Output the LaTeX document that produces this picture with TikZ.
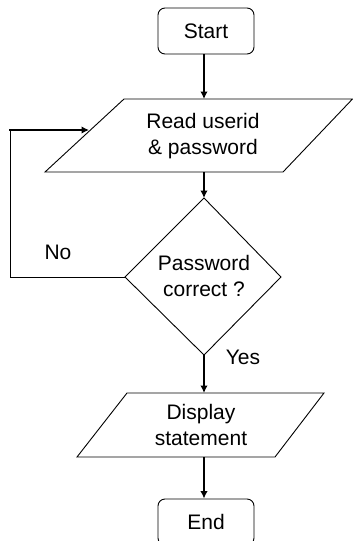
\documentclass[tikz,border=0pt]{standalone}
\usepackage{fontspec}
\setmainfont{Liberation Sans}
\usetikzlibrary{arrows.meta}
\begin{document}
\begin{tikzpicture}[x=1pt,y=-1pt,
  shapeline/.style={draw=black,line width=0.9pt,line join=miter},
  flow/.style={line width=1.6pt,-{Latex[length=7.5pt,width=7.5pt]}},
  loopline/.style={line width=1pt},
  txt/.style={align=center,font=\fontsize{21}{26}\selectfont,inner sep=0pt},
  lbl/.style={font=\fontsize{21}{24}\selectfont,inner sep=0pt},
  term/.style={shapeline,rounded corners=7pt,minimum width=96pt,minimum height=46pt,font=\fontsize{21}{24}\selectfont}]
\useasboundingbox (0,0) rectangle (353,541);
\clip (0,0) rectangle (353,541);
\fill[white] (0,0) rectangle (353,541);
% terminals
\node[term] (start) at (206,31) {Start};
\node[term] (end) at (206,522) {End};
% input parallelogram
\draw[shapeline] (124,99) -- (352.5,99) -- (283,172) -- (45,172) -- cycle;
\node[txt] (read) at (203,136) {Read userid\\\& password};
% decision
\draw[shapeline] (204,198) -- (281,277) -- (204,355) -- (125,277) -- cycle;
\node[txt] (dec) at (204,276) {Password\\correct ?};
% output parallelogram
\draw[shapeline] (127,393) -- (324,393) -- (275,457) -- (77,457) -- cycle;
\node[txt] (disp) at (201,425) {Display\\statement};
% connector end points
\coordinate (readTop) at (204,99);
\coordinate (readBot) at (204,172);
\coordinate (decTop) at (204,198);
\coordinate (decBot) at (204,355);
\coordinate (decLeft) at (125,277);
\coordinate (dispTop) at (204,393);
\coordinate (dispBot) at (204,457);
\coordinate (readLeft) at (89,130);
\coordinate (loopA) at (10,277);
\coordinate (loopB) at (10,130);
% connectors
\draw[flow] (start.south -| readTop) -- (readTop);
\draw[flow] (readBot) -- (decTop);
\draw[flow] (decBot) -- (dispTop);
\draw[flow] (dispBot) -- (end.north -| dispBot);
\draw[loopline] (decLeft) -- (loopA) -- ([yshift=-0.8pt]loopB);
\draw[flow,line cap=rect] (loopB) -- (readLeft);
% labels
\node[lbl] (no) at (58,252) {No};
\node[lbl] (yes) at (243,357) {Yes};
\end{tikzpicture}
\end{document}
